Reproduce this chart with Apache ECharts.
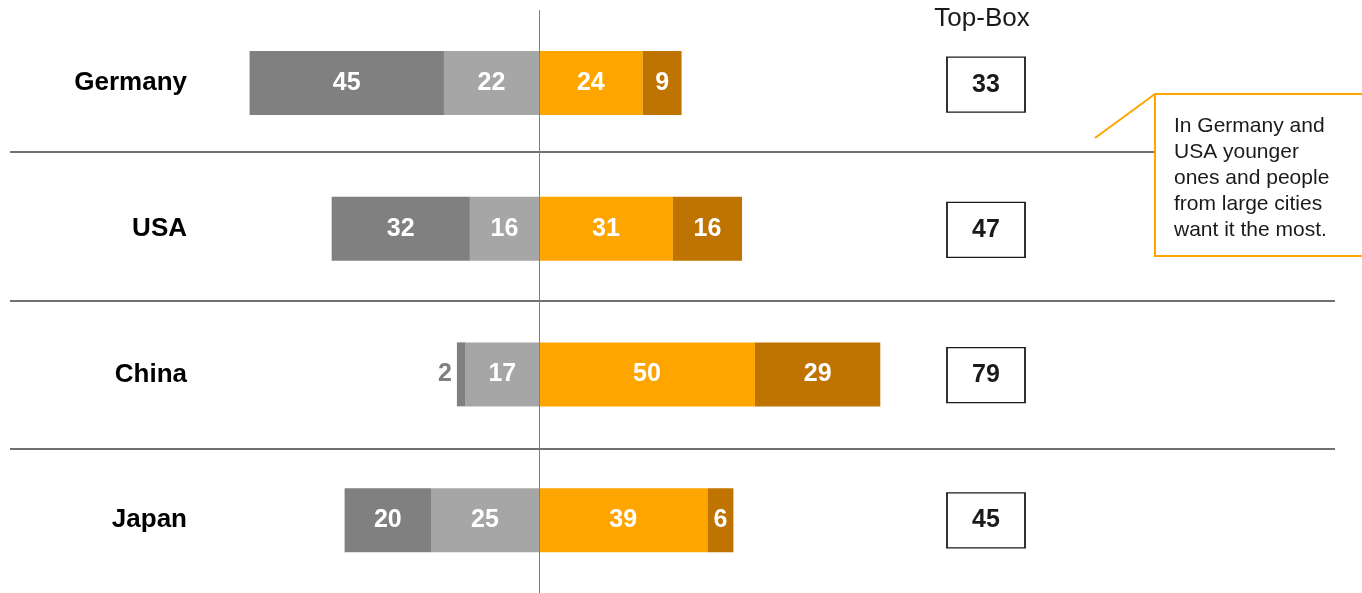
<!DOCTYPE html>
<html>
<head>
<meta charset="utf-8">
<style>
  html, body { margin: 0; padding: 0; background: #fff; }
  #chart { width: 1362px; height: 593px; }
</style>
<script src="https://cdn.jsdelivr.net/npm/echarts@6/dist/echarts.min.js"></script>
</head>
<body>
<div id="chart"></div>
<script>
// Countries, top to bottom
const countries = ['Germany', 'USA', 'China', 'Japan'];
// Negative side (drawn left of the zero line)
const lowOuter = [45, 32, 2, 20];   // dark grey, outermost
const lowInner = [22, 16, 17, 25];  // light grey, next to zero
// Positive side (drawn right of the zero line)
const highInner = [24, 31, 50, 39]; // orange, next to zero
const highOuter = [9, 16, 29, 6];   // dark orange, outermost
// Top-Box = sum of both positive answers
const topBox = highInner.map((v, i) => v + highOuter[i]);
const topBoxTitle = 'Top-Box';
const noteLines = [
  'In Germany and',
  'USA younger',
  'ones and people',
  'from large cities',
  'want it the most.'
];

const FONT = '"Liberation Sans", Arial, Helvetica, sans-serif';

function valueLabel() {
  return {
    show: true,
    position: 'inside',
    color: '#fff',
    fontFamily: FONT,
    fontWeight: 'bold',
    fontSize: 25,
    formatter: p => Math.abs(p.value)
  };
}

// Narrow segments get their number outside, in grey
function items(values, sign, outsidePos) {
  return values.map(v => {
    const d = { value: sign * v };
    if (v < 5) {
      d.label = { position: outsidePos, distance: 5, color: '#808080' };
    }
    return d;
  });
}

function barSeries(name, data, color, stack) {
  return {
    name: name,
    type: 'bar',
    stack: stack,
    data: data,
    barWidth: 64,
    xAxisIndex: 0,
    yAxisIndex: 0,
    itemStyle: { color: color },
    label: valueLabel(),
    silent: true
  };
}

const series = [
  barSeries('Low 1', items(lowInner, -1, 'left'), '#a6a6a6', 'all'),
  barSeries('Low 2', items(lowOuter, -1, 'left'), '#808080', 'all'),
  barSeries('High 1', items(highInner, 1, 'right'), '#ffa500', 'all'),
  barSeries('High 2', items(highOuter, 1, 'right'), '#bf7300', 'all'),
  {
    name: topBoxTitle,
    type: 'scatter',
    xAxisIndex: 1,
    yAxisIndex: 1,
    symbol: 'rect',
    symbolSize: [78, 55],
    silent: true,
    itemStyle: { color: '#fff', borderColor: '#1a1a1a', borderWidth: 1.5, opacity: 1 },
    label: {
      show: true,
      position: 'inside',
      color: '#1a1a1a',
      fontFamily: FONT,
      fontWeight: 'bold',
      fontSize: 25,
      formatter: p => p.value[2]
    },
    data: countries.map((c, i) => [topBoxTitle, c, topBox[i]])
  }
];

// Zero line through the middle of the diverging bars
series[0].markLine = {
  silent: true,
  symbol: 'none',
  label: { show: false },
  lineStyle: { color: '#808080', width: 1, type: 'solid' },
  data: [{ xAxis: 0 }]
};

const chart = echarts.init(document.getElementById('chart'), null, { renderer: 'canvas' });

chart.setOption({
  animation: false,
  backgroundColor: '#fff',
  grid: [
    { left: 107, width: 864, top: 10, height: 583 },
    { left: 947, width: 78, top: 12, height: 583 }
  ],
  xAxis: [
    {
      type: 'value', gridIndex: 0, min: -100, max: 100,
      show: false, splitLine: { show: false }
    },
    {
      type: 'category', gridIndex: 1, data: [topBoxTitle], show: false
    }
  ],
  yAxis: [
    {
      type: 'category', gridIndex: 0, data: countries, inverse: true,
      offset: -88,
      axisLine: { show: false }, axisTick: { show: false },
      splitLine: { show: false },
      axisLabel: {
        margin: 8,
        color: '#000',
        fontFamily: FONT,
        fontWeight: 'bold',
        fontSize: 26
      }
    },
    {
      type: 'category', gridIndex: 1, data: countries, inverse: true, show: false
    }
  ],
  series: series,
  graphic: [
    // Row separators
    { type: 'line', silent: true, shape: { x1: 10, y1: 152, x2: 1155, y2: 152 },
      style: { stroke: '#404040', lineWidth: 1.3 } },
    { type: 'line', silent: true, shape: { x1: 10, y1: 301, x2: 1335, y2: 301 },
      style: { stroke: '#404040', lineWidth: 1.3 } },
    { type: 'line', silent: true, shape: { x1: 10, y1: 449, x2: 1335, y2: 449 },
      style: { stroke: '#404040', lineWidth: 1.3 } },
    // Column header
    { type: 'text', silent: true, x: 982, y: 19,
      style: { text: topBoxTitle, font: '26px ' + FONT, fill: '#1a1a1a',
               align: 'center', verticalAlign: 'middle' } },
    // Callout
    { type: 'line', silent: true, shape: { x1: 1095, y1: 138, x2: 1155, y2: 94 },
      style: { stroke: '#ffa500', lineWidth: 2 } },
    { type: 'rect', silent: true, shape: { x: 1155, y: 94, width: 230, height: 162 },
      style: { fill: '#fff', stroke: '#ffa500', lineWidth: 2 } },
    { type: 'text', silent: true, x: 1174, y: 113,
      style: { text: noteLines.join('\n'), font: '21px ' + FONT, fill: '#1a1a1a',
               lineHeight: 26, align: 'left', verticalAlign: 'top' } }
  ]
});
</script>
</body>
</html>
